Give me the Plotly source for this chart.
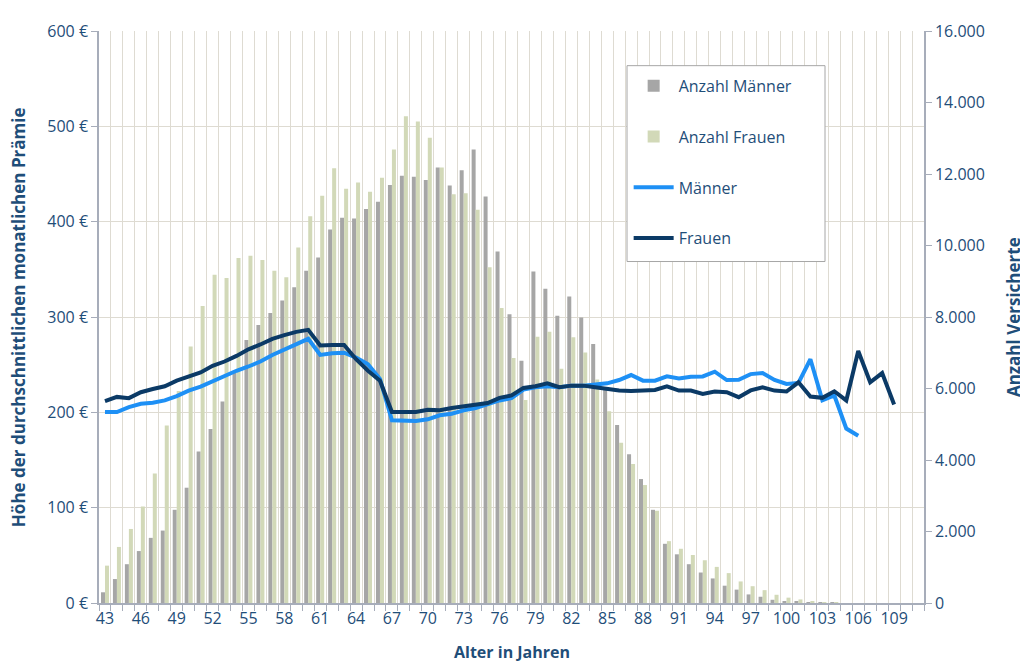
import plotly.graph_objects as go

ages = list(range(43, 112))

count_men = [300, 670, 1085, 1453, 1822, 2026, 2607, 3225, 4240, 4867,
             5633, 6450, 7357, 7773, 8115, 8465, 8835, 9295, 9666, 10450,
             10773, 10754, 11022, 11224, 11695, 11953, 11925, 11833, 12185, 11676,
             12102, 12683, 11372, 9831, 8078, 6777, 9274, 8789, 8033, 8576,
             7986, 7247, 5974, 4978, 4158, 3467, 2607, 1656, 1362, 1085,
             853, 687, 484, 374, 240, 175, 90, 50, 30, 20,
             10, 5, 0, 0, 0, 0, 0, 0, 0]

count_women = [1045, 1568, 2071, 2699, 3621, 4968, 5930, 7175, 8310, 9185,
               9093, 9647, 9710, 9591, 9295, 9112, 9943, 10818, 11390, 12158,
               11584, 11760, 11501, 11898, 12683, 13614, 13467, 13015, 12185, 11437,
               11464, 11003, 9389, 8254, 6851, 5679, 7446, 7590, 6555, 7433,
               7009, 6251, 5365, 4480, 3890, 3300, 2580, 1730, 1517, 1342,
               1196, 1010, 836, 603, 470, 360, 230, 150, 100, 50,
               25, 10, 0, 0, 0, 0, 0, 0, 0]

premium_men = [200.3, 200.3, 205.5, 209.0, 210.0, 212.5, 217.0, 222.8, 227.0, 232.8,
               238.4, 243.6, 248.1, 253.3, 260.2, 266.1, 271.2, 277.1, 260.2, 262.0,
               262.6, 257.4, 250.5, 234.9, 191.7, 191.0, 191.0, 192.7, 196.9, 198.6,
               202.1, 204.5, 209.0, 212.5, 214.9, 223.9, 226.3, 227.3, 226.3, 228.0,
               228.0, 228.7, 230.4, 233.9, 239.1, 233.2, 233.2, 237.7, 235.6, 237.4,
               237.7, 242.6, 233.9, 234.2, 240.1, 241.2, 233.9, 229.7, 230.8, 255.7,
               212.5, 217.7, 183.0, 175.4, None, None, None, None, None]

premium_women = [211.8, 216.2, 214.9, 221.1, 224.5, 227.3, 233.2, 237.7, 241.9, 248.8,
                 253.3, 259.2, 266.1, 271.2, 277.1, 281.0, 284.4, 286.5, 270.2, 270.6,
                 270.6, 255.7, 243.6, 233.2, 200.3, 200.3, 200.3, 202.7, 202.1, 204.5,
                 206.2, 207.3, 209.7, 215.2, 217.7, 225.6, 227.3, 230.4, 226.3, 228.0,
                 228.0, 226.3, 224.5, 222.8, 222.5, 222.5, 223.5, 227.3, 222.8, 222.8,
                 219.4, 221.8, 221.1, 215.9, 223.0, 226.3, 222.8, 221.8, 231.5, 216.6,
                 215.2, 222.1, 212.5, 264.4, 231.5, 241.2, 208.3, None, None]

x_tick_labels = list(range(43, 110, 3))

TEXT = "#1F4E79"
FONT = "Open Sans"

fig = go.Figure()
fig.add_trace(go.Bar(x=ages, y=count_men, name="Anzahl Männer", marker_color="#A6A6A6",
                     marker_line_width=0, yaxis="y", legendgroup="a"))
fig.add_trace(go.Bar(x=ages, y=count_women, name="Anzahl Frauen", marker_color="#D2D9B8",
                     marker_line_width=0, yaxis="y", legendgroup="b"))
fig.add_trace(go.Scatter(x=ages, y=premium_men, name="Männer", mode="lines",
                         line=dict(color="#1E90F5", width=4), yaxis="y2", legendgroup="c"))
fig.add_trace(go.Scatter(x=ages, y=premium_women, name="Frauen", mode="lines",
                         line=dict(color="#0B3A66", width=4), yaxis="y2", legendgroup="d"))

axis_line = "#A7ADBA"
grid = "#DEDBD2"

# The page body adds an 8px offset; margins compensate so the plot area
# lands at x 99..924, y 25..603 in the window.
fig.update_layout(
    width=1020, height=658,
    margin=dict(l=91, r=104, t=17, b=63),
    paper_bgcolor="white", plot_bgcolor="white",
    separators=",.",
    barmode="group", bargap=0.33, bargroupgap=0,
    font=dict(family=FONT, color=TEXT, size=16),
    showlegend=True,
    legend=dict(x=0.642, y=0.934, xanchor="left", yanchor="top",
                borderwidth=0, bgcolor="rgba(0,0,0,0)",
                font=dict(size=16, color=TEXT, family=FONT),
                tracegroupgap=27, itemwidth=40, traceorder="grouped"),
    shapes=[dict(type="rect", xref="paper", yref="paper",
                 x0=0.640, x1=0.880, y0=0.597, y1=0.9394,
                 line=dict(color="#A6A6A6", width=1), fillcolor="white", layer="above")],
    xaxis=dict(range=[42.5, 111.5], tickmode="array", tickvals=x_tick_labels,
               ticktext=[str(v) for v in x_tick_labels], ticks="", showgrid=False,
               showline=True, linecolor=axis_line, linewidth=1.5, zeroline=False,
               tickfont=dict(size=16, color=TEXT),
               minor=dict(tickmode="linear", tick0=42.5, dtick=1, ticks="outside",
                          ticklen=6, tickcolor=axis_line, showgrid=True,
                          gridcolor=grid, gridwidth=1)),
    yaxis=dict(side="right", range=[0, 16000], dtick=2000, tickformat=",d",
               showgrid=False, zeroline=False, showline=True, linecolor=axis_line,
               linewidth=1.5, ticks="outside", ticklen=6, tickcolor=axis_line,
               tickfont=dict(size=16, color=TEXT)),
    yaxis2=dict(side="left", overlaying="y", range=[0, 600], dtick=100,
                ticksuffix=" €", showgrid=True, gridcolor=grid, gridwidth=1,
                zeroline=False, showline=True, linecolor=axis_line, linewidth=1.5,
                ticks="outside", ticklen=6, tickcolor=axis_line,
                tickfont=dict(size=16, color=TEXT)),
    annotations=[
        dict(text="<b>Höhe der durchschnittlichen monatlichen Prämie</b>", textangle=-90,
             xref="paper", yref="paper", x=-0.098, y=0.5, xanchor="center", yanchor="middle",
             showarrow=False, font=dict(size=17, color=TEXT, family=FONT)),
        dict(text="<b>Anzahl Versicherte</b>", textangle=-90,
             xref="paper", yref="paper", x=1.108, y=0.5, xanchor="center", yanchor="middle",
             showarrow=False, font=dict(size=17, color=TEXT, family=FONT)),
        dict(text="<b>Alter in Jahren</b>", xref="paper", yref="paper",
             x=0.5, y=-0.085, xanchor="center", yanchor="middle",
             showarrow=False, font=dict(size=16, color=TEXT, family=FONT)),
    ],
)

fig.write_html("out.html")
